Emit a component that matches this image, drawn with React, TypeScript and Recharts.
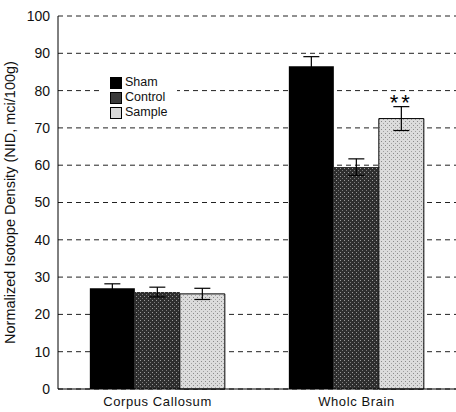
import { BarChart, Bar, XAxis, YAxis, CartesianGrid, ErrorBar, LabelList } from "recharts";

const regions = ["Corpus Callosum", "Wholc Brain"];
const sham = [27, 86.5];
const shamErr = [1.2, 2.6];
const control = [26, 59.5];
const controlErr = [1.3, 2.2];
const sample = [25.5, 72.5];
const sampleErr = [1.5, 3.2];
const significance = ["", "**"];
const yTicks = [0, 10, 20, 30, 40, 50, 60, 70, 80, 90, 100];
const legendLabels = ["Sham", "Control", "Sample"];
const legendColors = ["#000", "#3a3a3a", "#d8d8d8"];

const data = regions.map((region, i) => ({
  region,
  sham: sham[i],
  shamErr: shamErr[i],
  control: control[i],
  controlErr: controlErr[i],
  sample: sample[i],
  sampleErr: sampleErr[i],
  sig: significance[i],
}));

const font = "'Liberation Sans', Arial, sans-serif";

const SigLabel = (props: any) => {
  const { x, y, width, value } = props;
  if (!value) return null;
  return (
    <text x={x + width / 2} y={y - 9} textAnchor="middle" fontFamily={font} fontSize={22} letterSpacing={3} fill="#000">
      {value}
    </text>
  );
};

export default function App() {
  return (
    <div style={{ position: "absolute", left: 0, top: 0, width: 456, height: 412, background: "#fff" }}>
      <BarChart width={456} height={412} data={data} margin={{ top: 16, right: 0, left: 0, bottom: 0 }} barCategoryGap="16%" barGap={0}>
        <defs>
          <pattern id="ctrlPat" width={4} height={4} patternUnits="userSpaceOnUse">
            <rect width={4} height={4} fill="#2e2e2e" />
            <rect x={0} y={0} width={1} height={1} fill="#9a9a9a" />
            <rect x={2} y={2} width={1} height={1} fill="#7a7a7a" />
          </pattern>
          <pattern id="samplePat" width={4} height={4} patternUnits="userSpaceOnUse">
            <rect width={4} height={4} fill="#dcdcdc" />
            <rect x={1} y={1} width={1} height={1} fill="#8a8a8a" />
            <rect x={3} y={3} width={1} height={1} fill="#a0a0a0" />
          </pattern>
        </defs>
        <CartesianGrid horizontal vertical={false} stroke="#222" strokeDasharray="5 4" />
        <XAxis
          dataKey="region"
          height={23}
          axisLine={{ stroke: "#000" }}
          tickLine={false}
          tick={{ fill: "#111", fontSize: 13, fontFamily: font, letterSpacing: 0.6 }}
        />
        <YAxis
          width={58}
          domain={[0, 100]}
          ticks={yTicks}
          axisLine={{ stroke: "#000" }}
          tickLine={false}
          tick={{ fill: "#111", fontSize: 14, fontFamily: font }}
          label={{
            value: "Normalized Isotope Density (NID, mci/100g)",
            angle: -90,
            position: "insideLeft",
            offset: 10,
            style: { textAnchor: "middle", fill: "#111", fontSize: 14.5, fontFamily: font },
          }}
        />
        <Bar dataKey="sham" name="Sham" fill="#000" isAnimationActive={false}>
          <ErrorBar dataKey="shamErr" width={8} stroke="#000" strokeWidth={1.2} />
        </Bar>
        <Bar dataKey="control" name="Control" fill="url(#ctrlPat)" isAnimationActive={false}>
          <ErrorBar dataKey="controlErr" width={8} stroke="#000" strokeWidth={1.2} />
        </Bar>
        <Bar dataKey="sample" name="Sample" fill="url(#samplePat)" stroke="#000" strokeWidth={1} isAnimationActive={false}>
          <ErrorBar dataKey="sampleErr" width={8} stroke="#000" strokeWidth={1.2} />
          <LabelList dataKey="sig" content={<SigLabel />} />
        </Bar>
      </BarChart>
      <div
        style={{
          position: "absolute",
          left: 99,
          top: 74,
          width: 78,
          padding: "1px 0 2px 11px",
          background: "#fff",
          fontFamily: font,
          fontSize: 12.5,
          color: "#111",
          lineHeight: "15px",
          boxSizing: "border-box",
        }}
      >
        {legendLabels.map((label, i) => (
          <div key={label} style={{ display: "flex", alignItems: "center" }}>
            <svg width={12} height={12} style={{ marginRight: 3 }}>
              <rect x={0.5} y={0.5} width={11} height={11} fill={legendColors[i]} stroke="#000" />
            </svg>
            {label}
          </div>
        ))}
      </div>
    </div>
  );
}
